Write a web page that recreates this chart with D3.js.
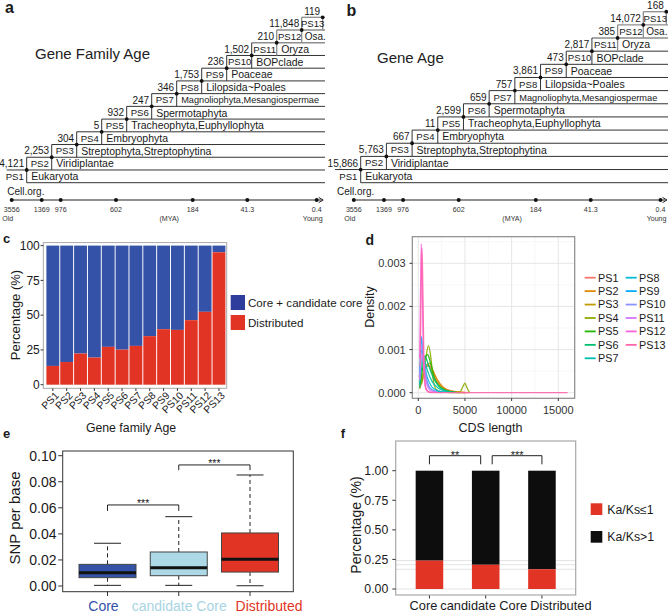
<!DOCTYPE html>
<html><head><meta charset="utf-8">
<script src="https://cdn.jsdelivr.net/npm/d3@7/dist/d3.min.js"></script>
<style>
body{margin:0;background:#fff}
svg{display:block}
text{font-family:"Liberation Sans",Arial,sans-serif;fill:#1a1a1a}
</style></head>
<body><svg id="chart" width="668" height="613"></svg>
<script>
// ---------------- DATA ----------------
const strata = ["PS1","PS2","PS3","PS4","PS5","PS6","PS7","PS8","PS9","PS10","PS11","PS12","PS13"];
const taxa = ["Cell.org.","Eukaryota","Viridiplantae","Streptophyta,Streptophytina","Embryophyta",
  "Tracheophyta,Euphyllophyta","Spermotaphyta","Magnoliophyta,Mesangiospermae","Lilopsida~Poales",
  "Poaceae","BOPclade","Oryza","Osa."];
const familyCounts = [4121,2253,304,5,932,247,346,1753,236,1502,210,11848,119];
const geneCounts = [15866,5763,667,11,2599,659,757,3861,473,2817,385,14072,168];
const timeTicks = ["3556","1369","976","602","184","41.3","0.4"];
const timeFrac = [0,0.0984,0.1607,0.342,0.5934,0.7725,1];   // schematic axis positions

const distributedPct = [13.5,16.3,22.4,19.5,27.2,25.2,27.9,34.9,39.9,39.4,46.4,52.4,95.2];
const percentTicks = [0,25,50,75,100];

// CDS length density curves (x = CDS length, y = density)
const densPS1 = [[150,0.0001],[400,0.00025],[700,0.0005],[1000,0.00062],[1300,0.0006],[1700,0.00042],[2200,0.00022],[2800,0.0001],[3500,0.00004],[4500,0.00001],[5500,0]];
const densPS2 = [[100,0.0004],[250,0.00025],[500,0.0004],[900,0.00065],[1200,0.00068],[1600,0.0005],[2100,0.00028],[2700,0.00012],[3500,0.00004],[5000,0.000005]];
const densPS3 = [[150,0.0002],[450,0.0004],[800,0.0006],[1100,0.00063],[1500,0.00045],[2000,0.00025],[2800,0.00008],[3800,0.00002],[5000,0]];
const densPS4 = [[200,0.00045],[320,0.0002],[500,0.00035],[800,0.0008],[1100,0.00109],[1350,0.0008],[1600,0.0003],[1900,0.00008],[2500,0.00002],[4400,0],[4800,0.00015],[5000,0.00022],[5200,0.00012],[5500,0]];
const densPS5 = [[150,0.0001],[500,0.0006],[800,0.00085],[1000,0.00088],[1300,0.0007],[1800,0.0003],[2500,0.0001],[3500,0.00002],[4500,0]];
const densPS6 = [[150,0.00015],[450,0.0007],[700,0.00085],[1000,0.0007],[1500,0.0004],[2200,0.00015],[3000,0.00005],[4000,0.00001]];
const densPS7 = [[150,0.0002],[400,0.0008],[650,0.00075],[1000,0.0005],[1500,0.00025],[2200,0.0001],[3000,0.00003],[3800,0]];
const densPS8 = [[150,0.0003],[350,0.001],[550,0.0008],[900,0.0004],[1400,0.00015],[2000,0.00005],[3000,0.00001]];
const densPS9 = [[150,0.0004],[330,0.0013],[500,0.0009],[800,0.00035],[1200,0.00012],[1800,0.00003],[2500,0]];
const densPS10 = [[150,0.0003],[380,0.0011],[600,0.00075],[900,0.0003],[1300,0.0001],[2000,0.00002]];
const densPS11 = [[150,0.0003],[400,0.0009],[650,0.0005],[900,0.0002],[1300,0.00005],[2000,0.00001]];
const densPS12 = [[150,0.0008],[250,0.0025],[320,0.00345],[420,0.0025],[550,0.0008],[750,0.00015],[1000,0.00003],[1500,0]];
const densPS13 = [[200,0.0006],[300,0.0024],[400,0.00335],[480,0.0025],[600,0.0008],[800,0.0001],[1200,0.00001],[2000,0],[16000,0]];
const densityCurves = [densPS1,densPS2,densPS3,densPS4,densPS5,densPS6,densPS7,densPS8,densPS9,densPS10,densPS11,densPS12,densPS13];
const densityColors = ["#F8766D","#E18A00","#BE9C00","#8CAB00","#24B700","#00BE70","#00C1AB","#00BBDA","#00ACFC","#8B93FF","#D575FE","#F962DD","#FF65AC"];
const cdsTicks = [0,5000,10000,15000];
const densTicks = [0,0.001,0.002,0.003];

const groups = ["Core","candidate Core","Distributed"];
const snpStats = [ // [min, q1, median, q3, max]
  [0.0005,0.0064,0.0102,0.0166,0.0328],
  [0.0005,0.0079,0.0140,0.0261,0.0532],
  [0.0002,0.0107,0.0205,0.0407,0.0852]];
const snpTicks = [0,0.02,0.04,0.06,0.08,0.10];
const kaksLow = [0.24,0.205,0.167];
const fracTicks = [0,0.25,0.5,0.75,1];

// ---------------- STYLE ----------------
const BLUE = "#3452A8", RED = "#E23424", LIGHT = "#ADD8E6";
const svg = d3.select("#chart");

function txt(g, x, y, s, size, opts = {}) {
  const t = g.append("text").attr("x", x).attr("y", y).text(s).attr("font-size", size);
  if (opts.anchor) t.attr("text-anchor", opts.anchor);
  if (opts.dy) t.attr("dy", opts.dy);
  if (opts.weight) t.attr("font-weight", opts.weight);
  if (opts.fill) t.style("fill", opts.fill);
  if (opts.rot !== undefined) t.attr("transform", `rotate(${opts.rot},${x},${y})`);
  return t;
}

// ---------------- PANELS a, b ----------------
function tree(counts, o) {
  const g = svg.append("g");
  const xs = d3.scaleLinear().domain([1, 12]).range([o.x1, o.x12]);
  const ys = d3.scaleLinear().domain([0, 13]).range([o.L0, o.L13]);
  const step = ys(0) - ys(1);
  const X = k => k <= 0 ? xs(0) : (k >= 13 ? o.x13 : xs(k));
  const col = k => k >= 11 ? "#8d8d8d" : "#333";
  for (let k = 0; k <= 13; k++) {
    const xa = k === 0 ? X(1) : (k === 1 ? X(0) + o.lead : X(k - 1));
    const xb = k === 13 ? X(13) : o.R;
    g.append("line").attr("x1", xa).attr("x2", xb).attr("y1", ys(k)).attr("y2", ys(k))
      .attr("stroke", col(k)).attr("stroke-width", k >= 11 ? 1.3 : 1);
  }
  for (let k = 1; k <= 13; k++) {
    g.append("line").attr("x1", X(k)).attr("x2", X(k)).attr("y1", ys(k - 1)).attr("y2", ys(Math.min(k + 1, 13)))
      .attr("stroke", col(k)).attr("stroke-width", k >= 11 ? 1.3 : 1);
  }
  for (let k = 1; k <= 13; k++) {
    g.append("circle").attr("cx", X(k)).attr("cy", ys(k)).attr("r", 1.9).attr("fill", "#111");
  }
  const fmt = d3.format(",");
  counts.forEach((c, i) => {
    const k = i + 1;
    const yc = ys(k) - step / 2;
    txt(g, X(k) - 2.5, yc, fmt(c), 10, {anchor: "end", dy: "0.36em"});
  });
  strata.forEach((s, i) => {
    const k = i + 1;
    const yc = ys(k - 1) - step / 2;
    txt(g, (X(k - 1) + X(k)) / 2 + 0.5, yc, s, 9.6, {anchor: "middle", dy: "0.36em"});
  });
  taxa.forEach((t, i) => {
    if (i === 0) { txt(g, X(0) + o.cellX, o.L0 + 8.5, t, 10, {dy: "0.36em"}); return; }
    const yc = ys(i - 1) - step / 2;
    txt(g, X(i) + (i === 12 ? 3 : 4.5), yc, t, i === 7 ? 9.2 : (i === 12 ? 10 : 10.5), {dy: "0.36em"});
  });
  txt(g, o.titleX, o.titleY, o.title, 15, {fill: "#222"});
  txt(g, o.labX, o.labY, o.lab, 16, {weight: "bold"});
  // time axis
  const tx = d3.scaleLinear().domain([0, 1]).range([o.t0, o.t1]);
  const ay = 200;
  g.append("line").attr("x1", tx(0)).attr("x2", tx(1) + 5).attr("y1", ay).attr("y2", ay).attr("stroke", "#222").attr("stroke-width", 1);
  g.append("path").attr("d", `M${tx(1)+2},${ay-2.6}L${tx(1)+6.5},${ay}L${tx(1)+2},${ay+2.6}`).attr("fill", "none").attr("stroke", "#222").attr("stroke-width", 1);
  timeFrac.forEach((f, i) => {
    g.append("circle").attr("cx", tx(f)).attr("cy", ay).attr("r", 2).attr("fill", "#111");
    txt(g, tx(f), 211.8, timeTicks[i], 7.1, {anchor: "middle", fill: "#333"});
  });
  txt(g, tx(0) - 9.5, 220.5, "Old", 7.1, {fill: "#333"});
  txt(g, tx(1) + 6, 220.5, "Young", 7.1, {anchor: "end", fill: "#333"});
  txt(g, (tx(0) + tx(1)) / 2 + 5, 220.5, "(MYA)", 7.1, {anchor: "middle", fill: "#333"});
}

tree(familyCounts, {x1: 26.7, x12: 301.7, x13: 322.7, R: 325, L0: 182.7, L13: 17.3, lead: 5, cellX: 5.5,
  title: "Gene Family Age", titleX: 35, titleY: 58.7, lab: "a", labX: 5, labY: 12.5, t0: 11.7, t1: 316.7});
tree(geneCounts, {x1: 360.7, x12: 643.3, x13: 666.3, R: 668, L0: 182.7, L13: 11.7, lead: 0, cellX: 2,
  title: "Gene Age", titleX: 377, titleY: 62.7, lab: "b", labX: 346.5, labY: 15.5, t0: 353.8, t1: 660.5});

// ---------------- PANEL c ----------------
{
  const g = svg.append("g");
  const x = d3.scaleBand().domain(strata).range([46.4, 225.4]).paddingInner(0.07);
  const y = d3.scaleLinear().domain([0, 100]).range([384.7, 245.6]);
  strata.forEach((s, i) => {
    g.append("rect").attr("x", x(s)).attr("width", x.bandwidth()).attr("y", y(100)).attr("height", y(distributedPct[i]) - y(100)).attr("fill", BLUE);
    g.append("rect").attr("x", x(s)).attr("width", x.bandwidth()).attr("y", y(distributedPct[i])).attr("height", y(0) - y(distributedPct[i])).attr("fill", RED);
  });
  g.append("rect").attr("x", 43.3).attr("y", 242.6).attr("width", 183.4).attr("height", 145.7).attr("fill", "none").attr("stroke", "#a8a8a8").attr("stroke-width", 1);
  percentTicks.forEach(t => {
    g.append("line").attr("x1", 40.6).attr("x2", 43.3).attr("y1", y(t)).attr("y2", y(t)).attr("stroke", "#333");
    txt(g, 39.8, y(t), t, 12, {anchor: "end", dy: "0.36em"});
  });
  strata.forEach(s => {
    const cx = x(s) + x.bandwidth() / 2;
    g.append("line").attr("x1", cx).attr("x2", cx).attr("y1", 388.3).attr("y2", 391).attr("stroke", "#333");
    txt(g, cx + 3, 392.5, s, 10.3, {anchor: "end", dy: "0.5em", rot: -45});
  });
  txt(g, 131, 431.5, "Gene family Age", 12.3, {anchor: "middle"});
  txt(g, 15.5, 315, "Percentage (%)", 13, {anchor: "middle", dy: "0.36em", rot: -90});
  txt(g, 3, 242.7, "c", 13, {weight: "bold"});
  g.append("rect").attr("x", 230.7).attr("y", 295).attr("width", 14.3).attr("height", 15).attr("fill", "#2E3D9C");
  g.append("rect").attr("x", 230.7).attr("y", 315).attr("width", 14.3).attr("height", 15).attr("fill", RED);
  txt(g, 248, 303, "Core + candidate core", 11.6, {dy: "0.36em"});
  txt(g, 248, 322.5, "Distributed", 11.6, {dy: "0.36em"});
}

// ---------------- PANEL d ----------------
{
  const g = svg.append("g");
  const px0 = 412.3, px1 = 574.7, py0 = 236.7, py1 = 398.3;
  const x = d3.scaleLinear().domain([0, 15000]).range([418.3, 558.3]);
  const y = d3.scaleLinear().domain([0, 0.003]).range([392.7, 263.3]);
  const grid = g.append("g");
  [2500, 7500, 12500].forEach(v => grid.append("line").attr("x1", x(v)).attr("x2", x(v)).attr("y1", py0).attr("y2", py1).attr("stroke", "#f2f2f2").attr("stroke-width", 0.6));
  [0.0005, 0.0015, 0.0025, 0.0035].forEach(v => grid.append("line").attr("x1", px0).attr("x2", px1).attr("y1", y(v)).attr("y2", y(v)).attr("stroke", "#f2f2f2").attr("stroke-width", 0.6));
  cdsTicks.forEach(v => grid.append("line").attr("x1", x(v)).attr("x2", x(v)).attr("y1", py0).attr("y2", py1).attr("stroke", "#e6e6e6").attr("stroke-width", 1));
  densTicks.forEach(v => grid.append("line").attr("x1", px0).attr("x2", px1).attr("y1", y(v)).attr("y2", y(v)).attr("stroke", "#e6e6e6").attr("stroke-width", 1));
  const line = d3.line().x(d => x(d[0])).y(d => y(d[1])).curve(d3.curveMonotoneX);
  densityCurves.forEach((c, i) => {
    g.append("path").attr("d", line(c)).attr("fill", "none").attr("stroke", densityColors[i]).attr("stroke-width", 1.3).attr("stroke-opacity", 0.9);
  });
  g.append("rect").attr("x", px0).attr("y", py0).attr("width", px1 - px0).attr("height", py1 - py0).attr("fill", "none").attr("stroke", "#8a8a8a").attr("stroke-width", 1.2);
  densTicks.forEach(v => {
    g.append("line").attr("x1", 409.5).attr("x2", px0).attr("y1", y(v)).attr("y2", y(v)).attr("stroke", "#333");
    txt(g, 405.7, y(v), d3.format(".3f")(v), 11, {anchor: "end", dy: "0.36em", fill: "#333"});
  });
  cdsTicks.forEach(v => {
    g.append("line").attr("x1", x(v)).attr("x2", x(v)).attr("y1", py1).attr("y2", py1 + 2.7).attr("stroke", "#333");
    txt(g, x(v), 414, v, 11, {anchor: "middle", fill: "#333"});
  });
  txt(g, 490.5, 431.5, "CDS length", 12.5, {anchor: "middle"});
  txt(g, 369.5, 307, "Density", 12.5, {anchor: "middle", dy: "0.36em", rot: -90});
  txt(g, 365.5, 245, "d", 14, {weight: "bold"});
  strata.forEach((s, i) => {
    const col = i < 7 ? 0 : 1, row = i < 7 ? i : i - 7;
    const kx = col === 0 ? 584.7 : 625.7, ky = 277.7 + row * 13.43;
    g.append("line").attr("x1", kx).attr("x2", kx + 11).attr("y1", ky).attr("y2", ky).attr("stroke", densityColors[i]).attr("stroke-width", 1.8);
    txt(g, kx + 13.3, ky, s, 10.8, {dy: "0.36em"});
  });
}

// ---------------- PANEL e ----------------
{
  const g = svg.append("g");
  const x = d3.scalePoint().domain(groups).range([107.5, 250]);
  const y = d3.scaleLinear().domain([0, 0.1]).range([586, 455.7]);
  const fills = [BLUE, LIGHT, RED];
  const bw = 57, cw = 27;
  groups.forEach((gname, i) => {
    const [mn, q1, md, q3, mx] = snpStats[i];
    const cx = x(gname);
    g.append("line").attr("x1", cx).attr("x2", cx).attr("y1", y(q3)).attr("y2", y(mx)).attr("stroke", "#222").attr("stroke-dasharray", "4,3");
    g.append("line").attr("x1", cx).attr("x2", cx).attr("y1", y(q1)).attr("y2", y(mn)).attr("stroke", "#222").attr("stroke-dasharray", "4,3");
    g.append("line").attr("x1", cx - cw / 2).attr("x2", cx + cw / 2).attr("y1", y(mx)).attr("y2", y(mx)).attr("stroke", "#222");
    g.append("line").attr("x1", cx - cw / 2).attr("x2", cx + cw / 2).attr("y1", y(mn)).attr("y2", y(mn)).attr("stroke", "#222");
    g.append("rect").attr("x", cx - bw / 2).attr("width", bw).attr("y", y(q3)).attr("height", y(q1) - y(q3)).attr("fill", fills[i]).attr("stroke", "#444").attr("stroke-width", 1);
    g.append("line").attr("x1", cx - bw / 2).attr("x2", cx + bw / 2).attr("y1", y(md)).attr("y2", y(md)).attr("stroke", "#111").attr("stroke-width", 3);
    g.append("line").attr("x1", cx).attr("x2", cx).attr("y1", 591.7).attr("y2", 596).attr("stroke", "#333");
  });
  g.append("rect").attr("x", 62.7).attr("y", 451).attr("width", 230.6).attr("height", 140.7).attr("fill", "none").attr("stroke", "#333").attr("stroke-width", 1);
  snpTicks.forEach(v => {
    g.append("line").attr("x1", 58.2).attr("x2", 62.7).attr("y1", y(v)).attr("y2", y(v)).attr("stroke", "#333");
    txt(g, 56.5, y(v), d3.format(".2f")(v), 14, {anchor: "end", dy: "0.36em"});
  });
  const br = (a, b, top, leg, lab) => {
    g.append("path").attr("d", `M${x(a)},${y(leg)}V${y(top)}H${x(b)}V${y(leg)}`).attr("fill", "none").attr("stroke", "#222");
    txt(g, (x(a) + x(b)) / 2, y(top) + 2, lab, 10.5, {anchor: "middle"});
  };
  br("Core", "candidate Core", 0.0622, 0.0576, "***");
  br("candidate Core", "Distributed", 0.0929, 0.0889, "***");
  const labOff = [-4, 0.5, 19];
  groups.forEach((gname, i) => txt(g, x(gname) + labOff[i], 610.5, gname, 14, {anchor: "middle", fill: i === 1 ? "#A8D4E3" : fills[i]}));
  txt(g, 15, 518, "SNP per base", 15, {anchor: "middle", dy: "0.36em", rot: -90});
  txt(g, 3, 438.3, "e", 13, {weight: "bold"});
}

// ---------------- PANEL f ----------------
{
  const g = svg.append("g");
  const px0 = 395.7, px1 = 575.7, py0 = 441, py1 = 595;
  const x = d3.scalePoint().domain(groups).range([px0, px1]).padding(0.6);
  const y = d3.scaleLinear().domain([0, 1]).range([589, 470.7]);
  const bw = x.step() * 0.49;
  [0, ...kaksLow].forEach(v => g.append("line").attr("x1", px0).attr("x2", px1).attr("y1", y(v)).attr("y2", y(v)).attr("stroke", "#e3e3e3").attr("stroke-width", 1));
  const labOff = [-6, -2, 19];
  groups.forEach((gname, i) => {
    const cx = x(gname);
    g.append("rect").attr("x", cx - bw / 2).attr("width", bw).attr("y", y(1)).attr("height", y(kaksLow[i]) - y(1)).attr("fill", "#0d0d0d");
    g.append("rect").attr("x", cx - bw / 2).attr("width", bw).attr("y", y(kaksLow[i])).attr("height", y(0) - y(kaksLow[i])).attr("fill", RED);
    g.append("line").attr("x1", cx).attr("x2", cx).attr("y1", py1).attr("y2", py1 + 3.5).attr("stroke", "#333");
    txt(g, cx + labOff[i], 610, gname, 12.8, {anchor: "middle"});
  });
  g.append("rect").attr("x", px0).attr("y", py0).attr("width", px1 - px0).attr("height", py1 - py0).attr("fill", "none").attr("stroke", "#a8a8a8").attr("stroke-width", 1.2);
  fracTicks.forEach(v => {
    g.append("line").attr("x1", 392.3).attr("x2", px0).attr("y1", y(v)).attr("y2", y(v)).attr("stroke", "#333");
    txt(g, 388.3, y(v), d3.format(".2f")(v), 12.3, {anchor: "end", dy: "0.36em"});
  });
  const br = (xa, xb, lab) => {
    g.append("path").attr("d", `M${xa},464.3V455.7H${xb}V464.3`).attr("fill", "none").attr("stroke", "#222");
    txt(g, (xa + xb) / 2, 458.5, lab, 11, {anchor: "middle"});
  };
  br(x("Core"), x("candidate Core") - 5, "**");
  br(x("candidate Core") + 6.5, x("Distributed"), "***");
  txt(g, 355.7, 525, "Percentage (%)", 14, {anchor: "middle", dy: "0.36em", rot: -90});
  txt(g, 340.7, 438.3, "f", 13, {weight: "bold"});
  g.append("rect").attr("x", 590.7).attr("y", 503.3).attr("width", 11.6).attr("height", 11.7).attr("fill", RED);
  g.append("rect").attr("x", 590.7).attr("y", 531).attr("width", 11.6).attr("height", 11.7).attr("fill", "#0d0d0d");
  txt(g, 607.3, 509.2, "Ka/Ks≤1", 12.3, {dy: "0.36em"});
  txt(g, 607.3, 536.9, "Ka/Ks>1", 12.3, {dy: "0.36em"});
}
</script></body></html>
